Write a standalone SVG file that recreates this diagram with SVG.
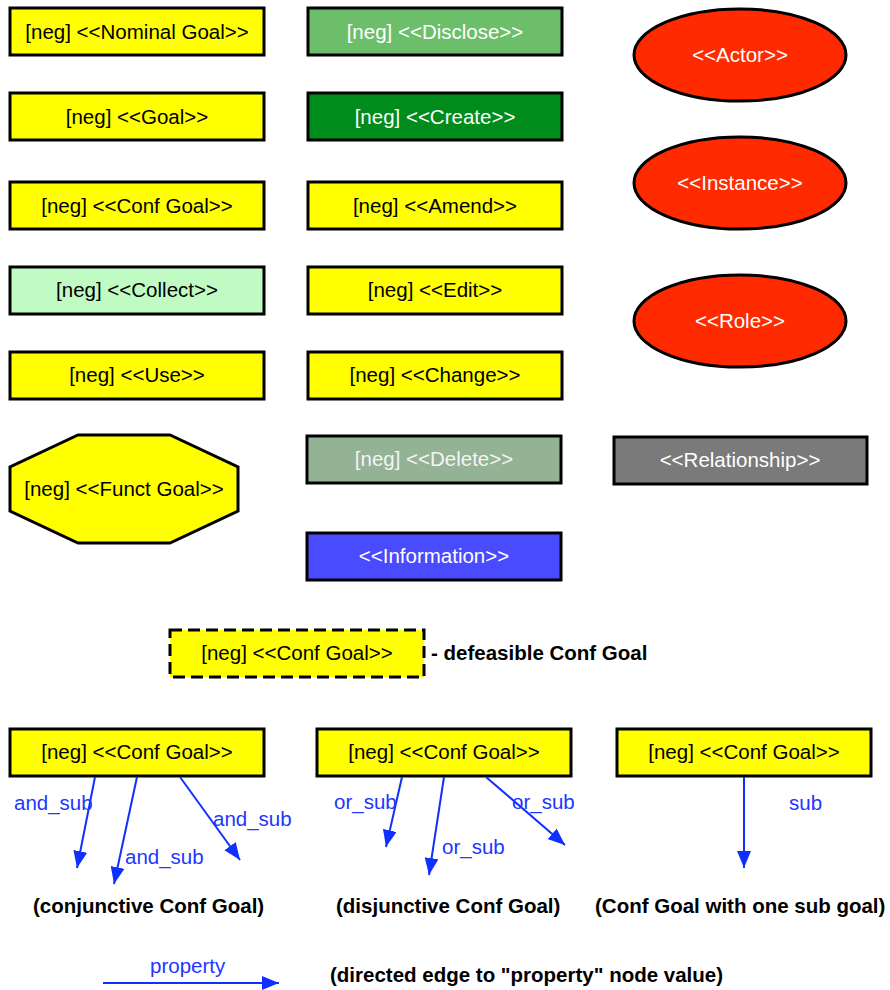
<svg xmlns="http://www.w3.org/2000/svg" width="890" height="990" viewBox="0 0 890 990">
  <style>
    text { font-family: "Liberation Sans", Arial, Helvetica, sans-serif; font-size: 20.5px; }
    .n { stroke: #000; stroke-width: 3; }
    .c { text-anchor: middle; }
    .dk { fill: #000; }
    .wt { fill: #fff; }
    .yel { fill: #ffff00; }
    .red { fill: #ff2a00; }
    .b { font-weight: bold; fill: #000; }
    .lbl { fill: #2236ff; }
    .edge { stroke: #1030ff; stroke-width: 2; fill: none; marker-end: url(#ah); }
  </style>
  <defs>
    <marker id="ah" markerUnits="userSpaceOnUse" markerWidth="18" markerHeight="14" refX="17" refY="7" orient="auto">
      <path d="M0,0 L17,7 L0,14 z" fill="#1030ff"/>
    </marker>
  </defs>

  <!-- left column -->
  <g id="nominal-goal"><rect class="n yel" x="10" y="8" width="254" height="47"/><text class="c dk" x="137" y="39">[neg] &lt;&lt;Nominal Goal&gt;&gt;</text></g>
  <g id="goal"><rect class="n yel" x="10" y="93" width="254" height="47"/><text class="c dk" x="137" y="124">[neg] &lt;&lt;Goal&gt;&gt;</text></g>
  <g id="conf-goal"><rect class="n yel" x="10" y="182" width="254" height="47"/><text class="c dk" x="137" y="213">[neg] &lt;&lt;Conf Goal&gt;&gt;</text></g>
  <g id="collect"><rect class="n" fill="#c0fbc4" x="10" y="267" width="254" height="47"/><text class="c dk" x="137" y="297">[neg] &lt;&lt;Collect&gt;&gt;</text></g>
  <g id="use"><rect class="n yel" x="10" y="352" width="254" height="47"/><text class="c dk" x="137" y="382">[neg] &lt;&lt;Use&gt;&gt;</text></g>
  <g id="funct-goal"><polygon class="n yel" points="78,435 170,435 238,467 238,511 170,543 78,543 10,511 10,467"/><text class="c dk" x="124" y="496">[neg] &lt;&lt;Funct Goal&gt;&gt;</text></g>

  <!-- middle column -->
  <g id="disclose"><rect class="n" fill="#6dbe6b" x="308" y="8" width="254" height="47"/><text class="c wt" x="435" y="39">[neg] &lt;&lt;Disclose&gt;&gt;</text></g>
  <g id="create"><rect class="n" fill="#008c1a" x="308" y="93" width="254" height="47"/><text class="c wt" x="435" y="124">[neg] &lt;&lt;Create&gt;&gt;</text></g>
  <g id="amend"><rect class="n yel" x="308" y="182" width="254" height="47"/><text class="c dk" x="435" y="213">[neg] &lt;&lt;Amend&gt;&gt;</text></g>
  <g id="edit"><rect class="n yel" x="308" y="267" width="254" height="47"/><text class="c dk" x="435" y="297">[neg] &lt;&lt;Edit&gt;&gt;</text></g>
  <g id="change"><rect class="n yel" x="308" y="352" width="254" height="47"/><text class="c dk" x="435" y="382">[neg] &lt;&lt;Change&gt;&gt;</text></g>
  <g id="delete"><rect class="n" fill="#94b294" x="307" y="436" width="254" height="47"/><text class="c" fill="#f4f4f4" x="434" y="466">[neg] &lt;&lt;Delete&gt;&gt;</text></g>
  <g id="information"><rect class="n" fill="#4a4aff" x="307" y="533" width="254" height="47"/><text class="c wt" x="434" y="563">&lt;&lt;Information&gt;&gt;</text></g>

  <!-- right column -->
  <g id="actor"><ellipse class="n red" cx="740" cy="55" rx="106" ry="46"/><text class="c wt" x="740" y="62">&lt;&lt;Actor&gt;&gt;</text></g>
  <g id="instance"><ellipse class="n red" cx="740" cy="183" rx="106" ry="46"/><text class="c wt" x="740" y="190">&lt;&lt;Instance&gt;&gt;</text></g>
  <g id="role"><ellipse class="n red" cx="740" cy="321" rx="106" ry="46"/><text class="c wt" x="740" y="328">&lt;&lt;Role&gt;&gt;</text></g>
  <g id="relationship"><rect class="n" fill="#7a7a7a" x="614" y="437" width="253" height="47"/><text class="c wt" x="740" y="467">&lt;&lt;Relationship&gt;&gt;</text></g>

  <!-- defeasible legend -->
  <g id="defeasible-goal"><rect class="n yel" stroke-dasharray="12,6" x="170" y="630" width="254" height="47"/><text class="c dk" x="297" y="660">[neg] &lt;&lt;Conf Goal&gt;&gt;</text></g>
  <text class="b" x="431" y="660">- defeasible Conf Goal</text>

  <!-- decomposition legends -->
  <g id="and-goal"><rect class="n yel" x="10" y="729" width="254" height="47"/><text class="c dk" x="137" y="759">[neg] &lt;&lt;Conf Goal&gt;&gt;</text></g>
  <g id="or-goal"><rect class="n yel" x="317" y="729" width="254" height="47"/><text class="c dk" x="444" y="759">[neg] &lt;&lt;Conf Goal&gt;&gt;</text></g>
  <g id="single-goal"><rect class="n yel" x="617" y="729" width="254" height="47"/><text class="c dk" x="744" y="759">[neg] &lt;&lt;Conf Goal&gt;&gt;</text></g>

  <g id="connectors">
    <line class="edge" x1="95" y1="777" x2="77" y2="868"/>
    <line class="edge" x1="137" y1="777" x2="114" y2="884"/>
    <line class="edge" x1="180" y1="777" x2="240" y2="860"/>
    <line class="edge" x1="402" y1="777" x2="386" y2="847"/>
    <line class="edge" x1="444" y1="777" x2="429" y2="875"/>
    <line class="edge" x1="486" y1="777" x2="565" y2="845"/>
    <line class="edge" x1="744" y1="777" x2="744" y2="868"/>
    <line class="edge" x1="103" y1="983" x2="279" y2="983"/>
  </g>

  <text class="lbl" x="14" y="810">and_sub</text>
  <text class="lbl" x="125" y="864">and_sub</text>
  <text class="lbl" x="213" y="826">and_sub</text>
  <text class="lbl" x="334" y="809">or_sub</text>
  <text class="lbl" x="442" y="854">or_sub</text>
  <text class="lbl" x="512" y="809">or_sub</text>
  <text class="lbl" x="789" y="810">sub</text>
  <text class="lbl" x="150" y="973">property</text>

  <text class="b" x="33" y="913">(conjunctive Conf Goal)</text>
  <text class="b" x="336" y="913">(disjunctive Conf Goal)</text>
  <text class="b" x="595" y="913">(Conf Goal with one sub goal)</text>
  <text class="b" x="330" y="982">(directed edge to "property" node value)</text>
</svg>
